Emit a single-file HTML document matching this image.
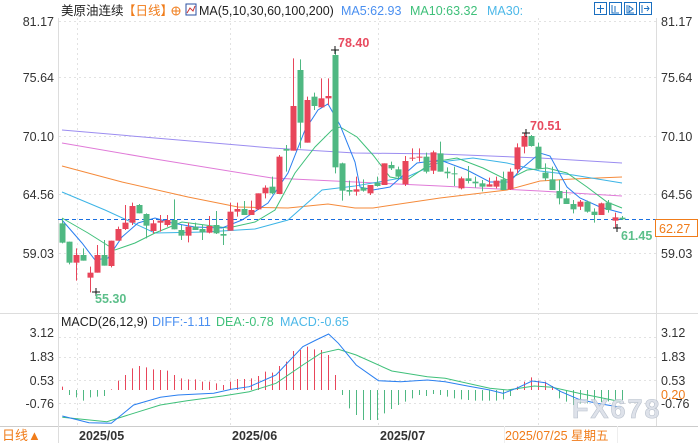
<!DOCTYPE html>
<html><head><meta charset="utf-8"><style>
html,body{margin:0;padding:0;background:#fff;}
body{width:698px;height:443px;overflow:hidden;font-family:"Liberation Sans","Noto Sans CJK SC",sans-serif;}
svg text{font-family:"Liberation Sans","Noto Sans CJK SC",sans-serif;}
</style></head><body>
<svg id="s" width="698" height="443" xmlns="http://www.w3.org/2000/svg">
<rect width="698" height="443" fill="#fff"/>
<!-- borders -->
<line x1="58.5" y1="18" x2="58.5" y2="426" stroke="#ddd"/>
<line x1="656.5" y1="18" x2="656.5" y2="426" stroke="#ddd"/>
<line x1="0" y1="313.5" x2="698" y2="313.5" stroke="#ddd"/>
<line x1="0" y1="426.5" x2="698" y2="426.5" stroke="#ccc"/>
<g id="grid" stroke="#e2e2e2" stroke-dasharray="2,3"></g>
<g id="ma" fill="none" stroke-width="1"></g>
<line x1="58" y1="219.5" x2="656" y2="219.5" stroke="#1a6fe0" stroke-dasharray="4,3"/>
<g id="cd"></g>
<g id="mh"></g>
<g id="ml" fill="none"></g>
<!-- header -->
<text x="61" y="15" font-size="12.5" fill="#222">美原油连续</text>
<text x="123" y="15" font-size="12.5" fill="#f07c1a">【日线】</text>
<circle cx="176" cy="11" r="4" fill="none" stroke="#f07c1a"/><line x1="172" y1="11" x2="180" y2="11" stroke="#f07c1a"/><line x1="176" y1="7" x2="176" y2="15" stroke="#f07c1a"/>
<rect x="186" y="4" width="10" height="11" fill="#fff" stroke="#2a4fa0"/><polyline points="187,13 190,8 193,11 195,6" fill="none" stroke="#c33"/>
<text x="199" y="15" font-size="12.5" fill="#222">MA(5,10,30,60,100,200)</text>
<text x="341" y="15" font-size="12.5" fill="#4a8ff0">MA5:62.93</text>
<text x="410" y="15" font-size="12.5" fill="#3fc07a">MA10:63.32</text>
<text x="487" y="15" font-size="12.5" fill="#4cb8e8">MA30:</text>
<g fill="none" stroke="#1a6fc0">
<rect x="594.5" y="2.5" width="12" height="12"/><rect x="609.5" y="2.5" width="12" height="12"/><rect x="624.5" y="2.5" width="12" height="12"/><rect x="639.5" y="2.5" width="12" height="12"/>
<path d="M600.5 5v8M597 8.5h7M612 5v8h7M615 6v6M627 5v8h7M629 6l4 3-4 3zM642 5v8M644 8.5h5M647 6l2 2.5-2 2.5"/>
</g>
<!-- axis labels -->
<g font-size="12.5" fill="#333">
<text x="54" y="26" text-anchor="end">81.17</text><text x="54" y="82" text-anchor="end">75.64</text><text x="54" y="141" text-anchor="end">70.10</text><text x="54" y="199" text-anchor="end">64.56</text><text x="54" y="258" text-anchor="end">59.03</text>
<text x="661" y="26">81.17</text><text x="661" y="82">75.64</text><text x="661" y="141">70.10</text><text x="661" y="199">64.56</text><text x="661" y="258">59.03</text>
<text x="54" y="337" text-anchor="end">3.12</text><text x="54" y="361" text-anchor="end">1.83</text><text x="54" y="385" text-anchor="end">0.53</text><text x="54" y="408" text-anchor="end">-0.76</text>
<text x="661" y="337">3.12</text><text x="661" y="361">1.83</text><text x="661" y="385">0.53</text><text x="661" y="408">-0.76</text>
</g>
<text x="661" y="399" font-size="12.5" fill="#f07c1a">0.20</text>
<rect x="655.5" y="219.5" width="42" height="17" fill="#fff" stroke="#f07c1a"/>
<text x="659" y="233" font-size="12.5" fill="#f07c1a">62.27</text>
<text x="338" y="47" font-size="12.5" font-weight="bold" fill="#e84a5f">78.40</text>
<text x="530" y="130" font-size="12.5" font-weight="bold" fill="#e84a5f">70.51</text>
<text x="95" y="303" font-size="12.5" font-weight="bold" fill="#5cbf8a">55.30</text>
<text x="621" y="240" font-size="12.5" font-weight="bold" fill="#5cbf8a">61.45</text>
<!-- macd legend -->
<text x="61" y="326" font-size="12.5" fill="#222">MACD(26,12,9)</text>
<text x="152" y="326" font-size="12.5" fill="#4a8ff0">DIFF:-1.11</text>
<text x="216" y="326" font-size="12.5" fill="#3fc07a">DEA:-0.78</text>
<text x="280" y="326" font-size="12.5" fill="#4cb8e8">MACD:-0.65</text>
<text x="572" y="418" font-size="27" font-weight="bold" fill="#d8dde6" fill-opacity="0.85" stroke="#b8c0cc" stroke-width="0.6" letter-spacing="2">FX678</text>
<!-- bottom -->
<text x="2" y="440" font-size="13" fill="#f07c1a">日线▲</text>
<line x1="58.5" y1="426" x2="58.5" y2="443" stroke="#ddd"/>
<g font-size="12.5" font-weight="bold" fill="#333"><text x="79" y="440">2025/05</text><text x="232" y="440">2025/06</text><text x="380" y="440">2025/07</text></g>
<text x="505" y="440" font-size="12.5" fill="#f07c1a">2025/07/25 星期五</text>
<line x1="504.5" y1="426" x2="504.5" y2="443" stroke="#eee"/><line x1="617.5" y1="426" x2="617.5" y2="443" stroke="#eee"/>
</svg>
<script>
var NS="http://www.w3.org/2000/svg";
function el(p,t,a){var e=document.createElementNS(NS,t);for(var k in a)e.setAttribute(k,a[k]);document.getElementById(p).appendChild(e);return e;}
// grid
[21,77,136,194,253,337,357,380,403].forEach(function(y){el("grid","line",{x1:59,x2:656,y1:y+.5,y2:y+.5});});
[77,230,378,538].forEach(function(x){el("grid","line",{x1:x+.5,x2:x+.5,y1:18,y2:426});});
// MA lines
var ma=[
["#9b8cf0","62,130 155,138 272,148 355,153 440,154 540,158 622,163"],
["#e07ad8","62,143 155,159 272,178 355,182 440,186 540,191 622,196"],
["#f58a3a","62,166 122,182 188,197 238,207 288,208 328,204 355,208 373,208 440,198 507,190 540,181 573,179 622,177"],
["#3cb4e6","62,192 105,210 155,233 205,232 255,229 288,220 322,190 355,186 407,177 440,162 473,158 507,163 540,171 573,175 622,183"],
["#3fc07a","62,218 88,233 115,250 135,243 155,233 182,222 205,225 228,228 255,222 275,210 295,173 315,147 332,130 340,127 357,137 373,155 390,177 407,180 433,162 457,158 483,168 507,180 527,170 547,168 567,173 587,187 607,202 622,208"],
["#2a7ff0","62,220 82,243 95,260 108,258 122,237 138,223 155,218 172,223 195,227 222,228 242,220 268,203 288,173 305,130 318,110 328,104 340,125 355,162 360,187 373,190 390,187 417,163 440,160 467,170 490,182 510,182 520,170 540,153 550,156 567,187 580,198 600,207 622,213"]];
ma.forEach(function(m){el("ma","polyline",{points:m[1],stroke:m[0]});});
// candles: color, bodyTop, bodyBot, wickTop, wickBot (zoom Y)
var C=[["G",580,638,565,640],["G",635,698,635,703],["R",675,698,655,752],["G",675,692,655,692],["R",728,743,710,787],["R",675,728,645,728],["G",675,707,630,707],["R",632,708,632,712],["R",597,632,590,632],["R",578,597,525,600],
["R",528,578,518,585],["G",525,550,522,550],["G",552,587,550,625],["R",580,603,570,610],["R",572,578,555,605],["R",570,585,555,590],["G",570,598,508,598],["G",600,617,585,630],["R",590,617,578,637],["G",590,600,578,600],
["G",597,607,585,630],["R",588,608,558,610],["G",585,610,543,612],["G",612,617,595,645],["R",545,602,518,602],["R",537,545,518,560],["G",537,555,513,555],["R",540,555,512,555],["R",490,538,490,540],["R",473,490,466,505],
["G",470,490,440,493],["R",380,492,375,492],["G",357,362,345,425],["R",228,362,85,362],["G",120,278,88,355],["R",210,338,200,338],["G",200,228,188,240],["R",205,232,145,232],["R",198,205,145,225],["G",75,412,60,430],
["G",400,482,398,512],["G",480,485,452,497],["R",478,485,440,497],["G",473,482,448,485],["R",465,490,465,495],["G",458,468,440,470],["R",400,465,400,465],["G",405,415,395,420],["G",418,440,410,445],["R",393,463,378,468],
["R",383,386,355,393],["R",380,383,355,395],["G",380,425,368,430],["R",367,422,362,432],["G",370,425,335,425],["G",425,430,412,445],["G",430,432,410,468],["R",445,475,440,478],["G",445,453,408,460],["G",455,460,440,473],
["G",460,470,450,484],["R",463,470,443,470],["R",452,470,440,475],["G",448,480,425,480],["R",425,478,415,480],["R",352,418,340,430],["R",318,350,310,370],["G",318,348,315,350],["G",350,415,338,418],["G",428,445,400,452],
["G",448,480,410,480],["G",483,505,450,523],["G",505,522,480,522],["G",522,538,510,550],["R",515,530,510,540],["G",515,545,512,548],["G",545,555,535,578],["R",520,555,518,555],["G",518,540,510,548],["R",562,572,548,595],["G",563,568,558,570]];
C.forEach(function(c,i){var x=62+7*i,col=c[0]=="R"?"#e8455a":"#4fb882";
var y=function(Y){return 30+Y/3;};
el("cd","line",{x1:x+.5,x2:x+.5,y1:y(c[3]),y2:y(c[4]),stroke:col});
var t=y(c[1]),b=y(c[2]);if(b-t<1)b=t+1;
el("cd","rect",{x:x-2.5,y:t,width:6,height:b-t,fill:col});});
// markers
[[96,292],[335,50],[526,133],[617,228]].forEach(function(p){el("cd","path",{d:"M"+(p[0]-4)+" "+p[1]+"h8M"+p[0]+" "+(p[1]-4)+"v8",stroke:"#111"});});
// MACD hist (top/bottom Y zoom)
var H=[[230,240],[240,255],[240,262],[240,272],[240,262],[240,260],[240,258],[238,240],[212,240],[195,240],[175,240],[168,240],[172,240],[178,240],[180,240],[182,240],[195,240],[205,240],[208,240],[208,240],[215,240],[215,240],[220,240],[225,240],[215,240],[207,240],[207,240],[205,240],[198,240],[185,240],[188,240],[168,240],[155,240],[123,240],[120,240],[110,240],[118,240],[120,240],[135,240],[195,240],
[240,255],[240,295],[240,315],[240,330],[240,330],[240,330],[240,310],[240,297],[240,285],[240,275],[240,265],[240,255],[240,258],[240,252],[240,255],[240,260],[240,265],[240,268],[240,270],[240,272],[240,272],[240,272],[240,272],[240,268],[240,258],[230,240],[215,240],[202,240],[212,240],[215,240],[228,240],[240,265],[240,275],[240,285],[240,280],[240,280],[240,278],[240,276],[240,274],[240,272],[240,270]];
H.forEach(function(h,i){var x=62+7*i+.5,red=h[1]==240&&h[0]<240;
el("mh","line",{x1:x,x2:x,y1:310+h[0]/3,y2:310+h[1]/3,stroke:red?"#e8455a":"#4fb882"});});
function conv(s){return s.split(" ").map(function(p){var a=p.split(",");return (a[0]/2.246).toFixed(1)+","+(310+a[1]/3).toFixed(1);}).join(" ");}
el("ml","polyline",{points:conv("140,322 240,335 300,310 360,285 420,272 500,258 560,245 620,220 680,165 720,130 760,118 800,135 880,183 960,200 1000,205 1100,235 1140,240 1200,228 1240,232 1300,250 1395,275"),stroke:"#3fc07a"});
el("ml","polyline",{points:conv("140,318 200,338 250,340 300,285 360,262 400,255 480,250 520,238 560,230 620,195 680,110 710,90 738,72 760,100 800,165 850,212 900,215 960,210 1000,215 1050,228 1100,240 1130,250 1160,235 1195,213 1225,218 1260,245 1300,268 1340,280 1395,292"),stroke:"#2a7ff0"});
</script>
</body></html>
